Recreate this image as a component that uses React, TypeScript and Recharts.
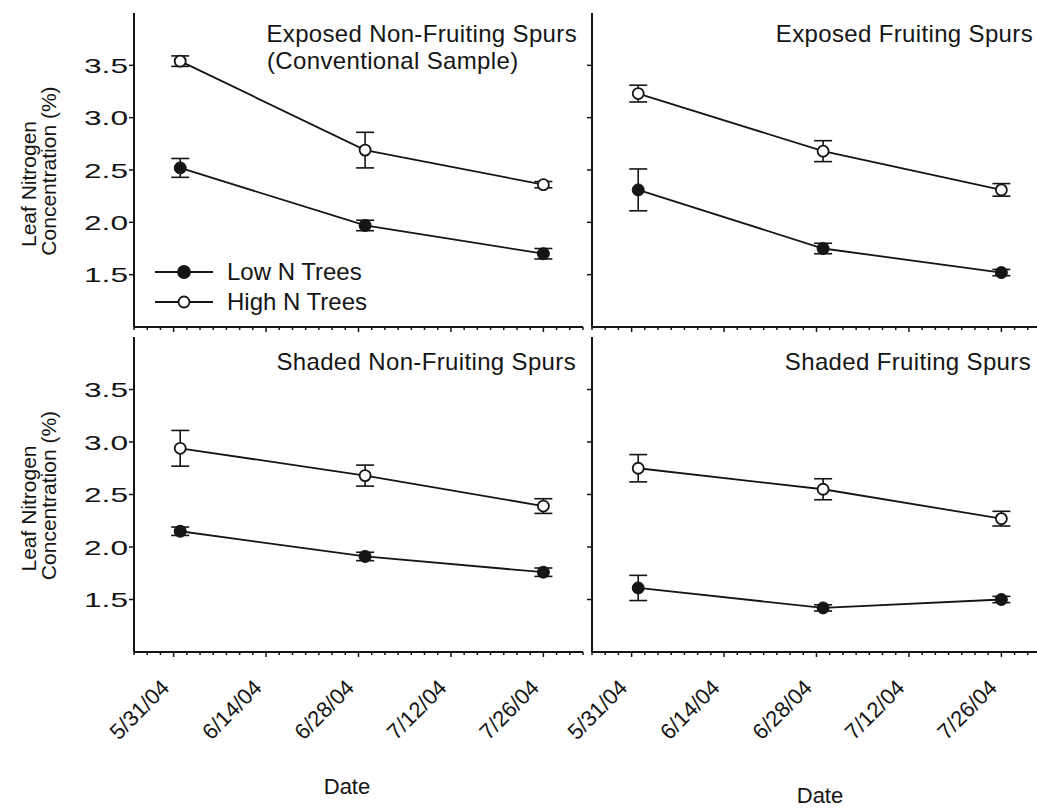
import React from "react";
import { LineChart, Line, XAxis, YAxis, ErrorBar, Legend } from "recharts";

// x axis: dates, tick labels every two weeks, minor ticks every 2 days
const tickDates = ["5/31/04", "6/14/04", "6/28/04", "7/12/04", "7/26/04"];
const axisStartDate = "5/25/04";
const axisEndDate = "8/1/04";
const sampleDates = ["6/1/04", "6/29/04", "7/26/04"];

const yTicks = [1.5, 2.0, 2.5, 3.0, 3.5];
const seriesNames = ["Low N Trees", "High N Trees"];

// Exposed non-fruiting spurs (conventional sample)
const lowExposedNonFruiting = [2.52, 1.97, 1.7];
const lowExposedNonFruitingSE = [0.09, 0.05, 0.05];
const highExposedNonFruiting = [3.54, 2.69, 2.36];
const highExposedNonFruitingSE = [0.05, 0.17, 0.03];

// Exposed fruiting spurs
const lowExposedFruiting = [2.31, 1.75, 1.52];
const lowExposedFruitingSE = [0.2, 0.05, 0.03];
const highExposedFruiting = [3.23, 2.68, 2.31];
const highExposedFruitingSE = [0.08, 0.1, 0.06];

// Shaded non-fruiting spurs
const lowShadedNonFruiting = [2.15, 1.91, 1.76];
const lowShadedNonFruitingSE = [0.04, 0.04, 0.04];
const highShadedNonFruiting = [2.94, 2.68, 2.39];
const highShadedNonFruitingSE = [0.17, 0.1, 0.07];

// Shaded fruiting spurs
const lowShadedFruiting = [1.61, 1.42, 1.5];
const lowShadedFruitingSE = [0.12, 0.03, 0.03];
const highShadedFruiting = [2.75, 2.55, 2.27];
const highShadedFruitingSE = [0.13, 0.1, 0.07];

const INK = "#151515";
const FONT = "'Liberation Sans', Arial, Helvetica, sans-serif";

// days after 5/31/04
function dayOf(date: string) {
  const [m, d, y] = date.split("/").map(Number);
  return (Date.UTC(2000 + y, m - 1, d) - Date.UTC(2004, 4, 31)) / 86400000;
}

const xStart = dayOf(axisStartDate);
const xEnd = dayOf(axisEndDate);
const majorDays = tickDates.map(dayOf);
const minorDays: number[] = [];
for (let d = xStart; d <= xEnd; d += 2) minorDays.push(d);

function XTick(props: any) {
  const { x, y, payload, showLabel } = props;
  const idx = majorDays.indexOf(payload.value);
  const major = idx >= 0;
  const lx = x - 3;
  const ly = y + 37;
  return (
    <g>
      <line x1={x} x2={x} y1={y} y2={y + (major ? 5 : 3)} stroke={INK} strokeWidth={1.5} />
      {major && showLabel && (
        <text
          x={lx}
          y={ly}
          transform={`rotate(-45 ${lx} ${ly})`}
          textAnchor="end"
          fontSize={22}
          fill={INK}
          fontFamily={FONT}
        >
          {tickDates[idx]}
        </text>
      )}
    </g>
  );
}

function YTick(props: any) {
  const { x, y, payload } = props;
  return (
    <text
      x={x}
      y={y + 7.5}
      textAnchor="end"
      fontSize={21}
      fill={INK}
      fontFamily={FONT}
      textLength={44}
      lengthAdjust="spacingAndGlyphs"
    >
      {Number(payload.value).toFixed(1)}
    </text>
  );
}

function EmptyTick() {
  return <g />;
}

function renderLegend(props: any) {
  const items = [...(props.payload || [])].sort(
    (a: any, b: any) => seriesNames.indexOf(a.value) - seriesNames.indexOf(b.value)
  );
  return (
    <div style={{ fontFamily: FONT, fontSize: 24, color: INK }}>
      {items.map((entry: any) => {
        const open = seriesNames.indexOf(entry.value) === 1;
        return (
          <div key={entry.value} style={{ display: "flex", alignItems: "center", height: 30 }}>
            <svg width={58} height={30}>
              <line x1={0} x2={58} y1={15} y2={15} stroke={INK} strokeWidth={1.8} />
              <circle cx={29} cy={15} r={open ? 5.5 : 6} fill={open ? "#fff" : INK} stroke={INK} strokeWidth={1.8} />
            </svg>
            <span style={{ marginLeft: 14, lineHeight: "30px" }}>{entry.value}</span>
          </div>
        );
      })}
    </div>
  );
}

type PanelCfg = {
  left: number;
  top: number;
  width: number;
  height: number;
  margin: { top: number; right: number; bottom: number; left: number };
  yAxisWidth: number;
  xAxisHeight: number;
  low: number[];
  lowSE: number[];
  high: number[];
  highSE: number[];
  title: { text: string; x: number; y: number; anchor: "start" | "end" }[];
  yLabels: boolean;
  xLabels: boolean;
  legend?: boolean;
  dateLabel?: { x: number; y: number };
};

function Panel({ cfg }: { cfg: PanelCfg }) {
  const data = sampleDates.map((d, i) => ({
    day: dayOf(d),
    low: cfg.low[i],
    lowErr: cfg.lowSE[i],
    high: cfg.high[i],
    highErr: cfg.highSE[i],
  }));
  const plotMid = cfg.margin.top + (cfg.height - cfg.margin.top - cfg.margin.bottom - cfg.xAxisHeight) / 2;
  const border = { stroke: INK, strokeWidth: 2 };
  return (
    <div style={{ position: "absolute", left: cfg.left, top: cfg.top }}>
      <LineChart width={cfg.width} height={cfg.height} data={data} margin={cfg.margin}>
        <XAxis
          dataKey="day"
          type="number"
          domain={[xStart, xEnd]}
          ticks={minorDays}
          interval={0}
          allowDataOverflow
          height={cfg.xAxisHeight}
          tickSize={0}
          tickMargin={0}
          tickLine={false}
          axisLine={border}
          tick={(p: any) => <XTick {...p} showLabel={cfg.xLabels} />}
        />
        <XAxis
          xAxisId="top"
          orientation="top"
          dataKey="day"
          type="number"
          domain={[xStart, xEnd]}
          height={0}
          tick={false}
          tickLine={false}
          axisLine={border}
        />
        <YAxis
          type="number"
          domain={[1, 4]}
          ticks={yTicks}
          interval={0}
          allowDataOverflow
          width={cfg.yAxisWidth}
          tickSize={5}
          tickMargin={1}
          tickLine={{ stroke: INK, strokeWidth: 1.5 }}
          axisLine={border}
          tick={cfg.yLabels ? (p: any) => <YTick {...p} /> : () => <EmptyTick />}
        />
        <YAxis
          yAxisId="right"
          orientation="right"
          type="number"
          domain={[1, 4]}
          width={0}
          tick={false}
          tickLine={false}
          axisLine={border}
        />
        <Line
          name={seriesNames[0]}
          dataKey="low"
          type="linear"
          stroke={INK}
          strokeWidth={1.8}
          dot={{ r: 6, fill: INK, stroke: INK, strokeWidth: 1 }}
          activeDot={false}
          isAnimationActive={false}
        >
          <ErrorBar dataKey="lowErr" direction="y" width={9} stroke={INK} strokeWidth={1.6} />
        </Line>
        <Line
          name={seriesNames[1]}
          dataKey="high"
          type="linear"
          stroke={INK}
          strokeWidth={1.8}
          dot={{ r: 5.5, fill: "#fff", stroke: INK, strokeWidth: 1.8 }}
          activeDot={false}
          isAnimationActive={false}
        >
          <ErrorBar dataKey="highErr" direction="y" width={9} stroke={INK} strokeWidth={1.6} />
        </Line>
        {cfg.legend && (
          <Legend
            layout="vertical"
            align="center"
            verticalAlign="middle"
            wrapperStyle={{ left: 155, top: 257, width: "auto" }}
            content={renderLegend}
          />
        )}
        {cfg.title.map((t) => (
          <text
            key={t.text}
            x={t.x}
            y={t.y}
            textAnchor={t.anchor}
            fontSize={24}
            letterSpacing={0.35}
            fill={INK}
            fontFamily={FONT}
          >
            {t.text}
          </text>
        ))}
        {cfg.yLabels && (
          <g fontFamily={FONT} fontSize={21} fill={INK}>
            <text x={36} y={plotMid + 14} transform={`rotate(-90 36 ${plotMid + 14})`} textAnchor="middle">
              Leaf Nitrogen
            </text>
            <text x={56} y={plotMid + 1} transform={`rotate(-90 56 ${plotMid + 1})`} textAnchor="middle">
              Concentration (%)
            </text>
          </g>
        )}
        {cfg.dateLabel && (
          <text x={cfg.dateLabel.x} y={cfg.dateLabel.y} textAnchor="middle" fontSize={22} fill={INK} fontFamily={FONT}>
            Date
          </text>
        )}
      </LineChart>
    </div>
  );
}

const panels: PanelCfg[] = [
  {
    left: 0,
    top: 0,
    width: 590,
    height: 340,
    margin: { top: 13, right: 7, bottom: 0, left: 0 },
    yAxisWidth: 134,
    xAxisHeight: 13,
    low: lowExposedNonFruiting,
    lowSE: lowExposedNonFruitingSE,
    high: highExposedNonFruiting,
    highSE: highExposedNonFruitingSE,
    title: [
      { text: "Exposed Non-Fruiting Spurs", x: 577, y: 42, anchor: "end" },
      { text: "(Conventional Sample)", x: 267, y: 69, anchor: "start" },
    ],
    yLabels: true,
    xLabels: false,
    legend: true,
  },
  {
    left: 560,
    top: 0,
    width: 490,
    height: 340,
    margin: { top: 13, right: 9, bottom: 0, left: 0 },
    yAxisWidth: 32,
    xAxisHeight: 13,
    low: lowExposedFruiting,
    lowSE: lowExposedFruitingSE,
    high: highExposedFruiting,
    highSE: highExposedFruitingSE,
    title: [{ text: "Exposed Fruiting Spurs", x: 473, y: 42, anchor: "end" }],
    yLabels: false,
    xLabels: false,
  },
  {
    left: 0,
    top: 330,
    width: 590,
    height: 481,
    margin: { top: 7, right: 7, bottom: 0, left: 0 },
    yAxisWidth: 134,
    xAxisHeight: 159,
    low: lowShadedNonFruiting,
    lowSE: lowShadedNonFruitingSE,
    high: highShadedNonFruiting,
    highSE: highShadedNonFruitingSE,
    title: [{ text: "Shaded Non-Fruiting Spurs", x: 576, y: 40, anchor: "end" }],
    yLabels: true,
    xLabels: true,
    dateLabel: { x: 347, y: 464 },
  },
  {
    left: 560,
    top: 330,
    width: 490,
    height: 481,
    margin: { top: 7, right: 9, bottom: 0, left: 0 },
    yAxisWidth: 32,
    xAxisHeight: 159,
    low: lowShadedFruiting,
    lowSE: lowShadedFruitingSE,
    high: highShadedFruiting,
    highSE: highShadedFruitingSE,
    title: [{ text: "Shaded Fruiting Spurs", x: 471, y: 40, anchor: "end" }],
    yLabels: false,
    xLabels: true,
    dateLabel: { x: 260, y: 473 },
  },
];

export default function App() {
  return (
    <div
      style={{
        position: "absolute",
        left: 0,
        top: 0,
        width: 1037,
        height: 811,
        overflow: "hidden",
        background: "#fff",
      }}
    >
      {panels.map((p, i) => (
        <Panel key={i} cfg={p} />
      ))}
    </div>
  );
}
